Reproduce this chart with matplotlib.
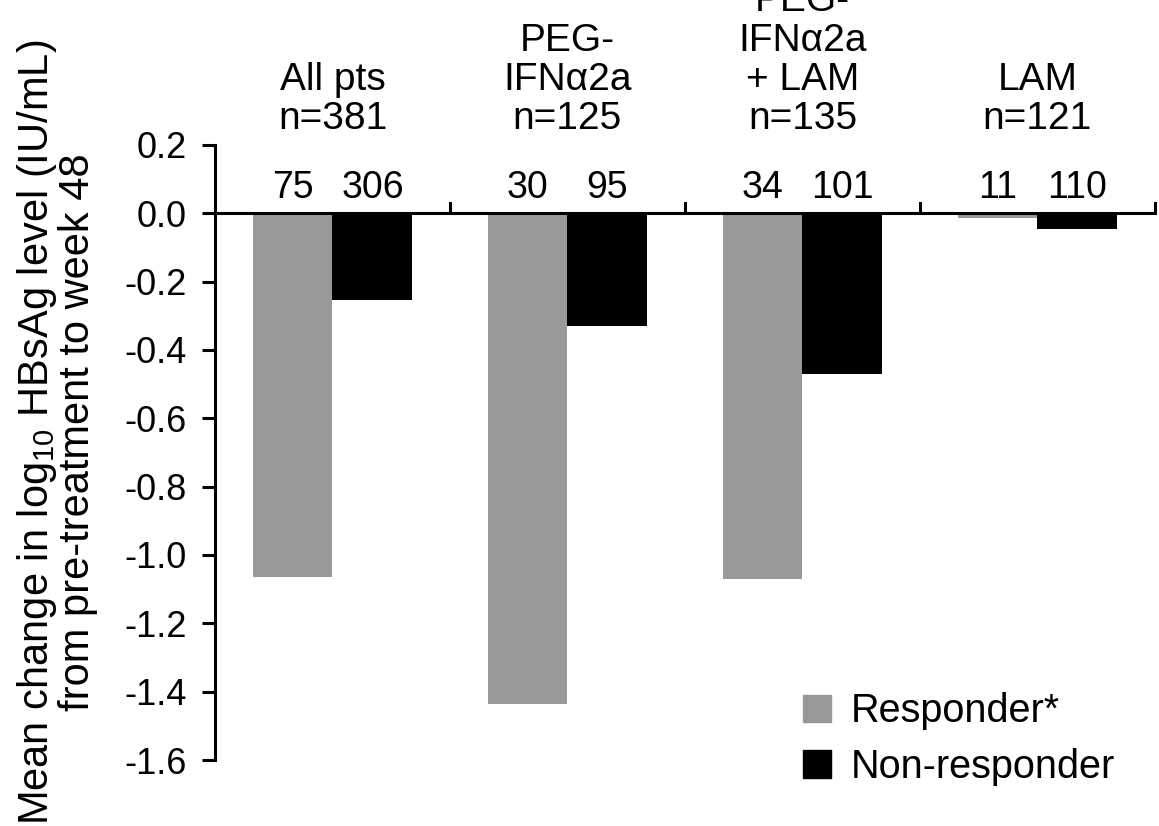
import matplotlib.pyplot as plt
from matplotlib.patches import Patch

plt.rcParams['font.family'] = ['Liberation Sans', 'DejaVu Sans']
plt.rcParams['mathtext.fontset'] = 'custom'
plt.rcParams['mathtext.rm'] = 'Liberation Sans'

# data
groups = ['All pts\nn=381', 'PEG-\nIFN\u03b12a\nn=125', 'PEG-\nIFN\u03b12a\n+ LAM\nn=135', 'LAM\nn=121']
responder = [-1.065, -1.435, -1.07, -0.015]
non_responder = [-0.255, -0.33, -0.47, -0.045]
n_responder = [75, 30, 34, 11]
n_non_responder = [306, 95, 101, 110]
yticks = [0.2, 0.0, -0.2, -0.4, -0.6, -0.8, -1.0, -1.2, -1.4, -1.6]

fig = plt.figure(figsize=(11.59, 8.26), dpi=100)
ax = fig.add_axes([0.1855, 0.0799, 0.811, 0.7446])

x = range(len(groups))
w = 0.34
ax.bar([i - w / 2 for i in x], responder, w, color='#999999', label='Responder*', zorder=2)
ax.bar([i + w / 2 for i in x], non_responder, w, color='black', label='Non-responder', zorder=2)

# zero line with group separators
ax.axhline(0, color='black', lw=2.2, zorder=3)
for b in [0.5, 1.5, 2.5, 3.5]:
    ax.plot([b, b], [0, 0.03], color='black', lw=2.2, zorder=3, clip_on=False)

for i in x:
    ax.text(i - w / 2, 0.044, str(n_responder[i]), ha='center', va='baseline', fontsize=27)
    ax.text(i + w / 2, 0.044, str(n_non_responder[i]), ha='center', va='baseline', fontsize=27)
    # group labels run off the top edge, as in the original figure
    ax.text(i, 0.222, groups[i], ha='center', va='bottom', fontsize=28,
            linespacing=1.12, clip_on=False)

ax.set_xlim(-0.5, 3.5)
ax.set_ylim(-1.6, 0.2)
ax.set_yticks(yticks)
ax.set_yticklabels(['%.1f' % v if v >= 0 else '-%.1f' % abs(v) for v in yticks])
ax.tick_params(axis='y', labelsize=26, width=2.2, length=9.5, pad=11)
ax.set_xticks([])
for s in ['top', 'right', 'bottom']:
    ax.spines[s].set_visible(False)
ax.spines['left'].set_linewidth(2.2)

fig.text(0.049, 0.477, 'Mean change in log$_{10}$ HBsAg level (IU/mL)\nfrom pre-treatment to week 48',
         rotation=90, ha='center', va='center', fontsize=30, linespacing=0.98)

ax.legend(handles=[Patch(color='#999999', label='Responder*'), Patch(color='black', label='Non-responder')],
          loc='upper left', bbox_to_anchor=(0.662, 0.205), bbox_transform=fig.transFigure,
          frameon=False, fontsize=28.5, handlelength=0.7, handleheight=0.7, handletextpad=0.5,
          labelspacing=0.45)

fig.savefig('out.png', dpi=100)
